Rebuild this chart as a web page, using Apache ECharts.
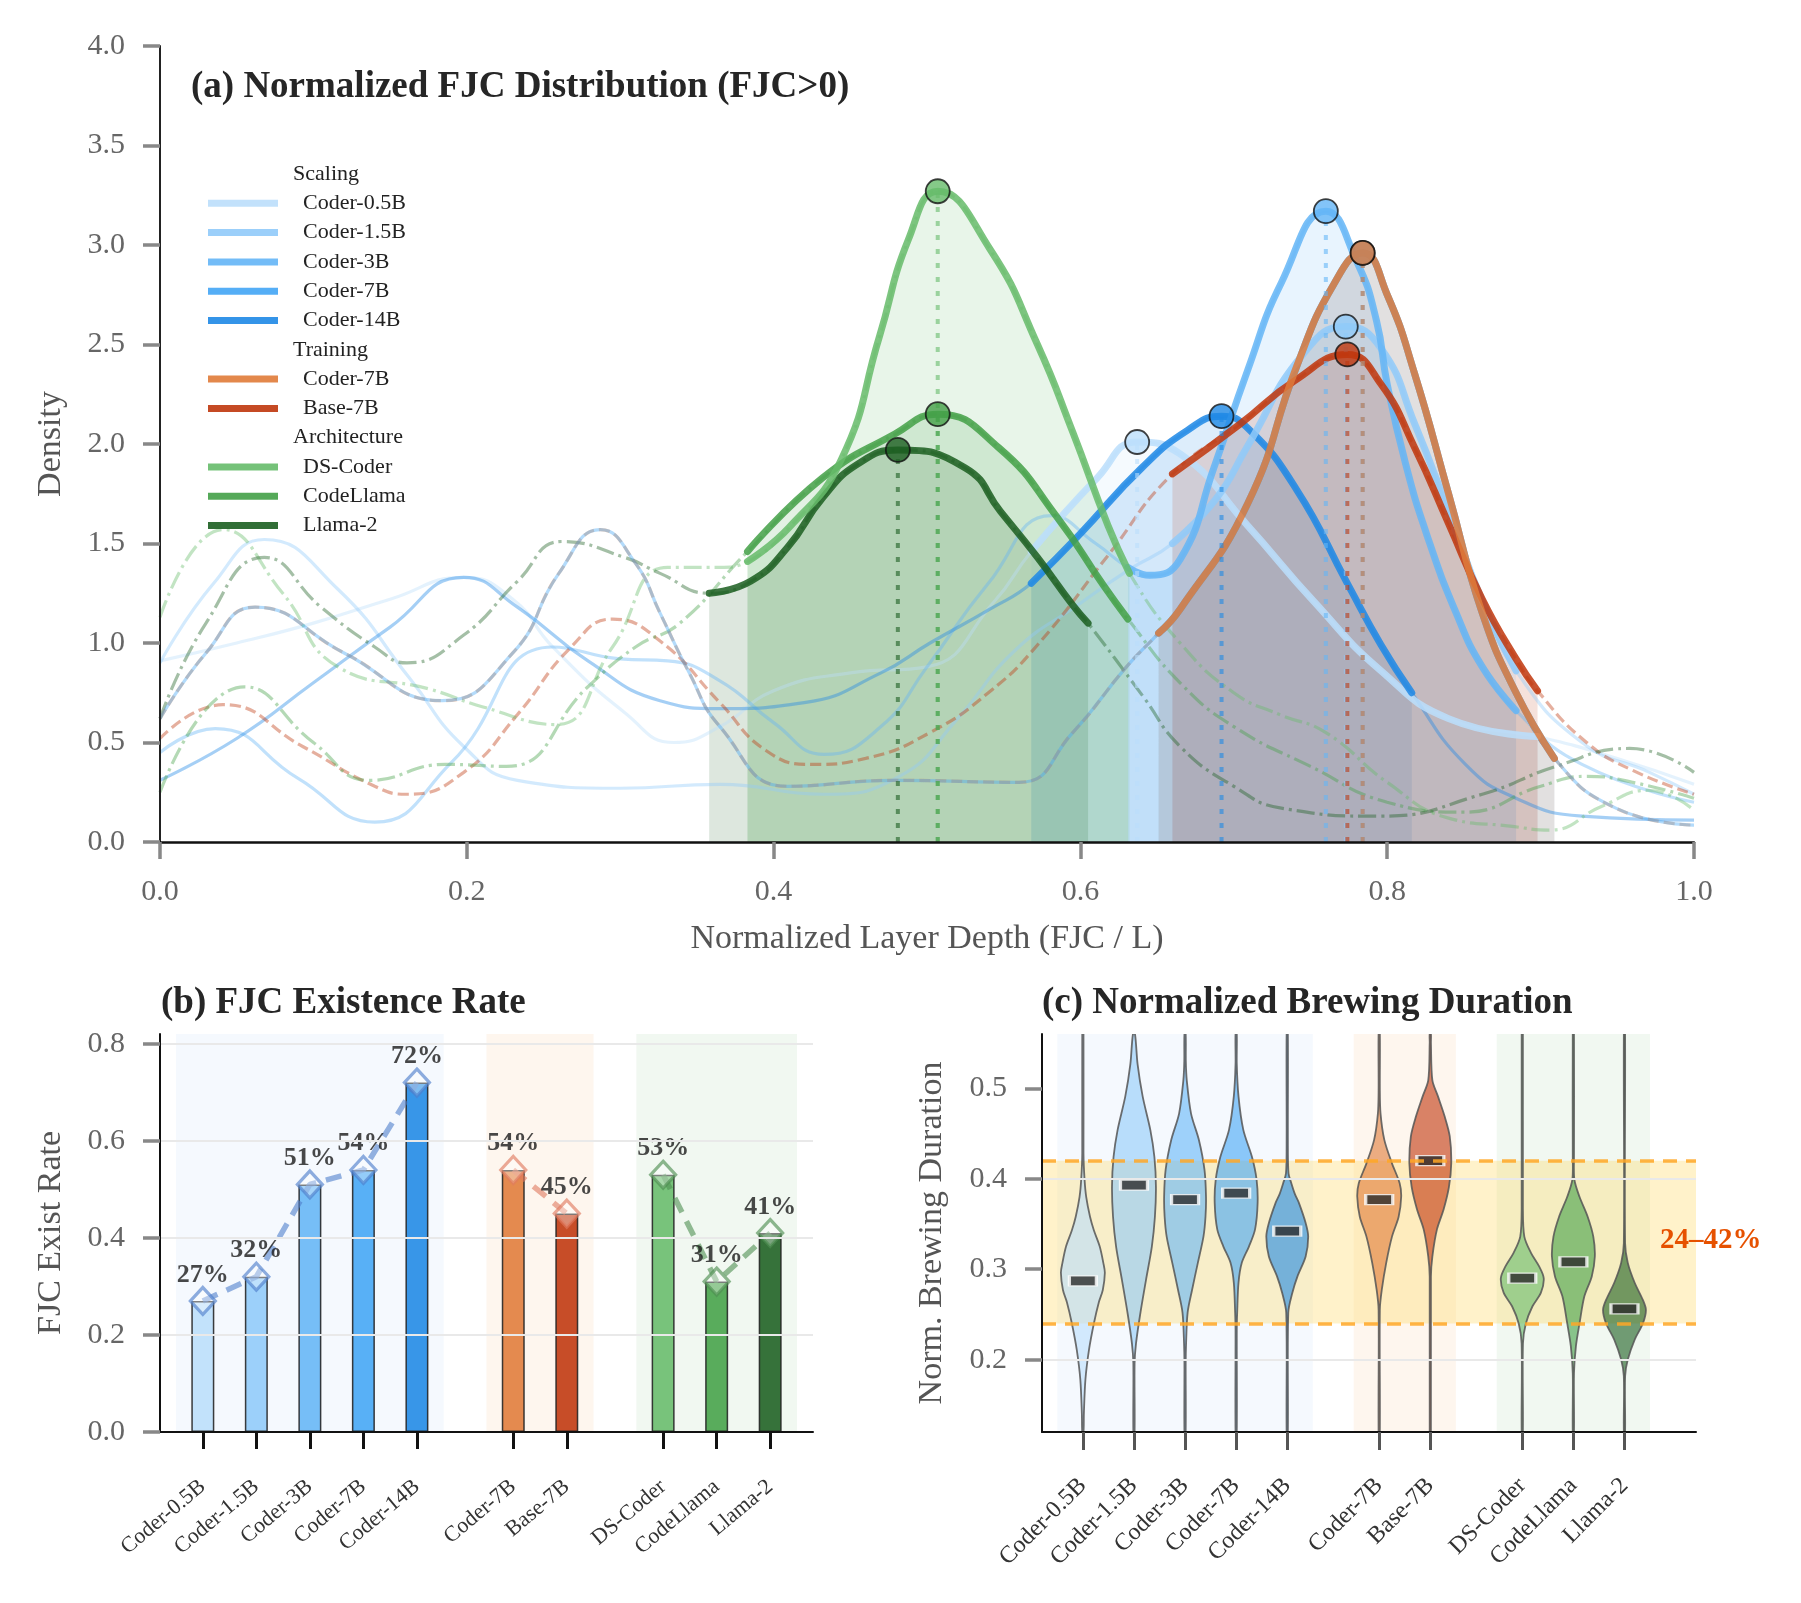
<!DOCTYPE html>
<html><head><meta charset="utf-8">
<script src="https://cdn.jsdelivr.net/npm/echarts@6/dist/echarts.min.js"></script>
<style>html,body{margin:0;padding:0;background:#fff}#c{width:1801px;height:1603px}</style>
</head><body><div id="c"></div>
<script>
const FONT = '"Liberation Serif","Times New Roman",Times,serif';

// ================= Panel (a): KDE curves [x, density] =================
const kdeCoder05B = [[0,0.91],[0.05,1.0],[0.10,1.10],[0.15,1.22],[0.198,1.33],[0.23,1.22],[0.256,0.98],[0.303,0.65],[0.335,0.50],[0.365,0.58],[0.40,0.76],[0.45,0.85],[0.50,0.88],[0.544,1.21],[0.568,1.46],[0.611,1.83],[0.637,2.01],[0.665,1.95],[0.709,1.59],[0.752,1.21],[0.796,0.86],[0.84,0.62],[0.898,0.53],[0.95,0.42],[1.0,0.29]];
const kdeCoder15B = [[0,0.90],[0.035,1.30],[0.068,1.52],[0.116,1.27],[0.163,0.82],[0.198,0.48],[0.233,0.31],[0.30,0.27],[0.365,0.29],[0.432,0.24],[0.482,0.33],[0.52,0.62],[0.557,0.96],[0.60,1.20],[0.632,1.37],[0.66,1.50],[0.688,1.72],[0.709,1.99],[0.745,2.45],[0.773,2.59],[0.796,2.48],[0.818,2.10],[0.84,1.66],[0.862,1.21],[0.884,0.86],[0.927,0.50],[0.971,0.35],[1.0,0.24]];
const kdeCoder3B = [[0,0.45],[0.036,0.57],[0.09,0.32],[0.14,0.10],[0.19,0.40],[0.256,0.98],[0.30,0.92],[0.331,0.91],[0.365,0.81],[0.40,0.60],[0.433,0.44],[0.47,0.58],[0.50,0.88],[0.54,1.30],[0.581,1.64],[0.61,1.50],[0.631,1.38],[0.645,1.34],[0.665,1.42],[0.687,1.88],[0.709,2.37],[0.731,2.81],[0.76,3.17],[0.78,2.92],[0.793,2.62],[0.80,2.30],[0.812,1.90],[0.826,1.54],[0.845,1.15],[0.862,0.88],[0.884,0.66],[0.927,0.39],[1.0,0.20]];
const kdeCoder7B = [[0,0.62],[0.03,0.95],[0.062,1.18],[0.12,0.95],[0.184,0.71],[0.23,0.95],[0.26,1.35],[0.287,1.57],[0.31,1.40],[0.326,1.15],[0.345,0.85],[0.365,0.58],[0.409,0.28],[0.479,0.31],[0.56,0.30],[0.595,0.55],[0.63,0.88],[0.651,1.05],[0.665,1.17],[0.709,1.70],[0.741,2.39],[0.765,2.80],[0.784,2.96],[0.80,2.75],[0.818,2.35],[0.84,1.75],[0.862,1.15],[0.884,0.75],[0.909,0.42],[0.949,0.17],[1.0,0.085]];
const kdeCoder14B = [[0,0.31],[0.05,0.52],[0.10,0.80],[0.15,1.08],[0.198,1.33],[0.233,1.18],[0.279,0.91],[0.326,0.71],[0.365,0.67],[0.42,0.70],[0.47,0.85],[0.502,1.0],[0.541,1.17],[0.568,1.30],[0.60,1.55],[0.64,1.88],[0.67,2.07],[0.692,2.14],[0.709,2.08],[0.741,1.77],[0.774,1.30],[0.796,0.99],[0.816,0.75],[0.851,0.39],[0.884,0.22],[0.927,0.13],[1.0,0.11]];
const kdeBase7B = [[0,0.52],[0.041,0.69],[0.093,0.48],[0.14,0.28],[0.161,0.24],[0.198,0.35],[0.233,0.64],[0.268,0.98],[0.295,1.12],[0.326,1.01],[0.365,0.70],[0.395,0.46],[0.425,0.39],[0.46,0.42],[0.502,0.55],[0.54,0.75],[0.572,0.99],[0.618,1.44],[0.66,1.85],[0.704,2.10],[0.74,2.32],[0.774,2.45],[0.796,2.30],[0.818,1.98],[0.84,1.60],[0.862,1.22],[0.884,0.92],[0.898,0.76],[0.93,0.50],[0.96,0.36],[1.0,0.24]];
const kdeDSCoder = [[0,1.13],[0.041,1.57],[0.08,1.25],[0.116,0.88],[0.175,0.77],[0.21,0.68],[0.258,0.59],[0.295,0.98],[0.331,1.38],[0.365,1.38],[0.383,1.41],[0.41,1.58],[0.444,1.92],[0.469,2.54],[0.488,3.03],[0.507,3.27],[0.541,2.98],[0.572,2.50],[0.595,2.06],[0.618,1.59],[0.632,1.35],[0.665,1.00],[0.70,0.75],[0.73,0.64],[0.76,0.55],[0.80,0.30],[0.84,0.12],[0.88,0.08],[0.906,0.06],[0.94,0.18],[0.97,0.26],[1.0,0.16]];
const kdeCodeLlama = [[0,0.25],[0.055,0.78],[0.10,0.50],[0.137,0.31],[0.186,0.39],[0.226,0.38],[0.279,0.78],[0.31,0.98],[0.339,1.10],[0.383,1.46],[0.432,1.83],[0.479,2.05],[0.507,2.15],[0.547,1.98],[0.585,1.63],[0.615,1.29],[0.631,1.12],[0.665,0.80],[0.70,0.58],[0.75,0.38],[0.80,0.20],[0.85,0.15],[0.90,0.28],[0.93,0.33],[0.96,0.30],[1.0,0.22]];
const kdeLlama2 = [[0,0.62],[0.03,1.10],[0.068,1.43],[0.105,1.18],[0.14,0.98],[0.161,0.90],[0.198,1.04],[0.233,1.31],[0.262,1.51],[0.303,1.43],[0.326,1.35],[0.358,1.25],[0.385,1.31],[0.409,1.48],[0.432,1.73],[0.455,1.90],[0.481,1.97],[0.525,1.88],[0.548,1.66],[0.572,1.43],[0.595,1.19],[0.605,1.10],[0.641,0.73],[0.665,0.48],[0.70,0.28],[0.731,0.17],[0.796,0.13],[0.862,0.24],[0.91,0.38],[0.958,0.47],[1.0,0.35]];

const kdeNames  = ['Coder-0.5B','Coder-1.5B','Coder-3B','Coder-7B','Coder-14B','Coder-7B','Base-7B','DS-Coder','CodeLlama','Llama-2'];
const kdeGroups = ['Scaling','Scaling','Scaling','Scaling','Scaling','Training','Training','Architecture','Architecture','Architecture'];
const kdeCurves = [kdeCoder05B,kdeCoder15B,kdeCoder3B,kdeCoder7B,kdeCoder14B,kdeCoder7B,kdeBase7B,kdeDSCoder,kdeCodeLlama,kdeLlama2];
const peakX = [0.637,0.773,0.760,0.784,0.692,0.784,0.774,0.507,0.507,0.481];
const peakY = [2.01,2.59,3.17,2.96,2.14,2.96,2.45,3.27,2.15,1.97];
const mainLo = [0.568,0.66,0.631,0.651,0.568,0.651,0.66,0.383,0.383,0.358];
const mainHi = [0.898,0.884,0.884,0.909,0.816,0.909,0.898,0.632,0.631,0.605];

// ================= Panel (b) =================
const modelNames = ['Coder-0.5B','Coder-1.5B','Coder-3B','Coder-7B','Coder-14B','Coder-7B','Base-7B','DS-Coder','CodeLlama','Llama-2'];
const modelPos = [0,1,2,3,4,5.8,6.8,8.6,9.6,10.6];
const existRate = [0.27,0.32,0.51,0.54,0.72,0.54,0.45,0.53,0.31,0.41];
const groupMembers = [[0,1,2,3,4],[5,6],[7,8,9]];
const groupSpan = [[-0.5,4.5],[5.3,7.3],[8.1,11.1]];
const existTicks = [0,0.2,0.4,0.6,0.8];

// ================= Panel (c): violin profiles [value, half-width] =================
const violinCoder05B = [[0.56,0.012],[0.428,0.012],[0.399,0.033],[0.38,0.065],[0.358,0.14],[0.343,0.215],[0.325,0.33],[0.307,0.40],[0.296,0.43],[0.277,0.39],[0.263,0.31],[0.24,0.215],[0.211,0.12],[0.178,0.05],[0.141,0.02],[0.12,0.012]];
const violinCoder15B = [[0.56,0.02],[0.527,0.07],[0.491,0.17],[0.454,0.32],[0.424,0.40],[0.391,0.43],[0.358,0.41],[0.325,0.35],[0.288,0.235],[0.251,0.124],[0.218,0.04],[0.196,0.012],[0.12,0.012]];
const violinCoder3B = [[0.56,0.012],[0.53,0.015],[0.509,0.033],[0.472,0.117],[0.443,0.27],[0.41,0.38],[0.38,0.41],[0.358,0.40],[0.336,0.36],[0.307,0.25],[0.277,0.137],[0.252,0.05],[0.218,0.02],[0.196,0.012],[0.12,0.012]];
const violinCoder7B = [[0.56,0.012],[0.527,0.012],[0.491,0.046],[0.454,0.14],[0.424,0.31],[0.399,0.40],[0.373,0.42],[0.344,0.37],[0.325,0.25],[0.307,0.11],[0.285,0.046],[0.252,0.02],[0.233,0.012],[0.12,0.012]];
const violinCoder14B = [[0.56,0.012],[0.443,0.012],[0.406,0.025],[0.395,0.08],[0.383,0.15],[0.373,0.23],[0.351,0.36],[0.336,0.41],[0.314,0.36],[0.292,0.20],[0.274,0.10],[0.252,0.02],[0.12,0.012]];
const violinTrain7B = [[0.56,0.012],[0.498,0.012],[0.472,0.026],[0.443,0.10],[0.417,0.25],[0.395,0.40],[0.38,0.43],[0.358,0.38],[0.336,0.25],[0.307,0.137],[0.277,0.05],[0.255,0.012],[0.12,0.012]];
const violinBase7B = [[0.56,0.012],[0.55,0.012],[0.509,0.04],[0.491,0.15],[0.469,0.28],[0.447,0.38],[0.417,0.41],[0.391,0.365],[0.366,0.26],[0.344,0.13],[0.314,0.04],[0.292,0.012],[0.12,0.012]];
const violinDSCoder = [[0.56,0.012],[0.369,0.012],[0.336,0.04],[0.318,0.17],[0.303,0.33],[0.29,0.42],[0.274,0.365],[0.259,0.2],[0.24,0.07],[0.218,0.013],[0.12,0.012]];
const violinCodeLlama = [[0.56,0.012],[0.424,0.012],[0.399,0.02],[0.38,0.12],[0.358,0.28],[0.336,0.39],[0.314,0.42],[0.292,0.36],[0.27,0.215],[0.24,0.12],[0.215,0.05],[0.185,0.012],[0.12,0.012]];
const violinLlama2 = [[0.56,0.012],[0.329,0.012],[0.307,0.065],[0.285,0.2],[0.266,0.36],[0.255,0.42],[0.24,0.36],[0.222,0.2],[0.2,0.065],[0.182,0.013],[0.12,0.012]];
const violinProfiles = [violinCoder05B,violinCoder15B,violinCoder3B,violinCoder7B,violinCoder14B,violinTrain7B,violinBase7B,violinDSCoder,violinCodeLlama,violinLlama2];
const brewMedian = [0.287,0.393,0.377,0.384,0.342,0.377,0.420,0.290,0.308,0.256];
const brewTicks = [0.2,0.3,0.4,0.5];
const brewGrid = [0.2,0.4];
const bandLo = 0.24, bandHi = 0.42;

// ================= Styles =================
const colors = ['#bbdefb','#90caf9','#64b5f6','#42a5f5','#1e88e5','#e07b39','#bf360c','#66bb6a','#43a047','#1b5e20'];
const groupDash = {Scaling:'solid', Training:[11,5], Architecture:[18,5,3,5]};
const groupBg = ['#f5f9fe','#fef6ee','#f1f8f1'];
const groupLine = ['#4f7fcc','#e07a5f','#4e8f52'];
function hexA(h,a){const r=parseInt(h.slice(1,3),16),g=parseInt(h.slice(3,5),16),b=parseInt(h.slice(5,7),16);return `rgba(${r},${g},${b},${a})`;}

const SMOOTH = 0.5;
const series = [];
const idx = [0,1,2,3,4,5,6,7,8,9];
const inRange = i => kdeCurves[i].filter(p => p[0] >= mainLo[i] - 1e-9 && p[0] <= mainHi[i] + 1e-9);

// areas
idx.forEach(i => series.push({type:'line', xAxisIndex:0, yAxisIndex:0, z:1, silent:true,
  data: inRange(i), smooth:SMOOTH, symbol:'none',
  lineStyle:{width:0, opacity:0}, areaStyle:{color:colors[i], opacity:0.15}}));
// thin full-range lines
[0,1,2,4,6,7,8,9,5,3].forEach(i => series.push({type:'line', xAxisIndex:0, yAxisIndex:0, z:2, silent:true,
  data: kdeCurves[i], smooth:SMOOTH, symbol:'none',
  lineStyle:{width:3.2, color:colors[i], opacity:0.4, type:groupDash[kdeGroups[i]]}}));
// thick highlighted segments
[3,0,4,1,2,9,8,7,6,5].forEach(i => series.push({type:'line', xAxisIndex:0, yAxisIndex:0, z:3, silent:true,
  data: inRange(i), smooth:SMOOTH, symbol:'none',
  lineStyle:{width:7, color:colors[i], opacity:0.85, cap:'round'}}));
// dotted verticals
idx.forEach(i => series.push({type:'line', xAxisIndex:0, yAxisIndex:0, z:4, silent:true,
  data: [[peakX[i],0],[peakX[i],peakY[i]]], symbol:'none',
  lineStyle:{width:4, color:colors[i], opacity:0.6, type:[5,9]}}));
// peak markers
[0,1,2,4,3,5,6,7,8,9].forEach(i => series.push({type:'scatter', xAxisIndex:0, yAxisIndex:0, z:5, silent:true,
  data: [[peakX[i],peakY[i]]], symbol:'circle', symbolSize:24,
  itemStyle:{color:colors[i], borderColor:'#111', borderWidth:1.8}}));

// ---- panel b ----
series.push({type:'line', xAxisIndex:1, yAxisIndex:1, z:0, silent:true, data:[[-0.8,0]], symbol:'none', lineStyle:{opacity:0},
  markArea:{silent:true, label:{show:false}, data: groupSpan.map((s,g)=>[{xAxis:s[0], itemStyle:{color:groupBg[g]}},{xAxis:s[1]}])}});
series.push({type:'line', xAxisIndex:1, yAxisIndex:1, z:1, silent:true, data:[[-0.8,0]], symbol:'none', lineStyle:{opacity:0},
  markLine:{silent:true, symbol:['none','none'], label:{show:false}, lineStyle:{color:'#e9e9e9', width:2, type:'solid'},
    data: existTicks.filter(v=>v>0).map(v=>({yAxis:v}))}});
series.push({type:'bar', xAxisIndex:1, yAxisIndex:1, z:2, silent:true, barWidth:23,
  data: modelPos.map((p,i)=>({value:[p, existRate[i]], itemStyle:{color:colors[i]}})),
  itemStyle:{borderColor:'#222', borderWidth:1.5, opacity:0.88}});
groupMembers.forEach((m,g) => {
  series.push({type:'line', xAxisIndex:1, yAxisIndex:1, z:3, silent:true, symbol:'none',
    data: m.map(i=>[modelPos[i], existRate[i]]),
    lineStyle:{color:groupLine[g], width:5.5, opacity:0.6, type:[16,10]}});
  series.push({type:'scatter', xAxisIndex:1, yAxisIndex:1, z:4, silent:true, symbol:'diamond', symbolSize:[25,27],
    data: m.map(i=>[modelPos[i], existRate[i]]),
    itemStyle:{color:'rgba(255,255,255,0.45)', borderColor:hexA(groupLine[g],0.8), borderWidth:3.2},
    label:{show:true, position:'top', distance:-2, formatter:p=>Math.round(p.value[1]*100)+'%',
      fontSize:26, fontWeight:'bold', color:'#1a1a1a', fontFamily:FONT}});
});

// ---- panel c ----
series.push({type:'line', xAxisIndex:2, yAxisIndex:2, z:0, silent:true, data:[[-0.8,0.12]], symbol:'none', lineStyle:{opacity:0},
  markArea:{silent:true, label:{show:false}, data: groupSpan.map((s,g)=>[{xAxis:s[0], itemStyle:{color:groupBg[g]}},{xAxis:s[1]}])}});
series.push({type:'line', xAxisIndex:2, yAxisIndex:2, z:1, silent:true, data:[[-0.8,0.12]], symbol:'none', lineStyle:{opacity:0},
  markLine:{silent:true, symbol:['none','none'], label:{show:false}, lineStyle:{color:'#e9e9e9', width:2, type:'solid'},
    data: brewGrid.map(v=>({yAxis:v}))}});
series.push({type:'line', xAxisIndex:2, yAxisIndex:2, z:1, silent:true, data:[[-0.8,0.12]], symbol:'none', lineStyle:{opacity:0},
  markArea:{silent:true, label:{show:false}, itemStyle:{color:'rgba(255,213,79,0.3)'}, data:[[{yAxis:bandLo},{yAxis:bandHi}]]}});
series.push({type:'line', xAxisIndex:2, yAxisIndex:2, z:2, silent:true, data:[[-0.8,0.12]], symbol:'none', lineStyle:{opacity:0},
  markLine:{silent:true, symbol:['none','none'], label:{show:false}, lineStyle:{color:'#ffa726', width:3.5, type:[14,9], opacity:0.85},
    data:[{yAxis:bandLo},{yAxis:bandHi}]}});
series.push({type:'custom', xAxisIndex:2, yAxisIndex:2, z:3, silent:true, clip:true,
  data: modelPos.map((p,i)=>[p, brewMedian[i], i]),
  renderItem:(params, api) => {
    const pos = api.value(0), k = api.value(2), prof = violinProfiles[k];
    const pts = [];
    prof.forEach(p => pts.push(api.coord([pos - p[1], p[0]])));
    for (let j = prof.length-1; j >= 0; j--) pts.push(api.coord([pos + prof[j][1], prof[j][0]]));
    return {type:'polygon', shape:{points:pts, smooth:0.3},
      style:{fill:hexA(colors[k],0.6), stroke:'rgba(85,85,85,0.85)', lineWidth:1.8}};
  }});
series.push({type:'scatter', xAxisIndex:2, yAxisIndex:2, z:4, silent:true, symbol:'rect', symbolSize:[27,10],
  data: modelPos.map((p,i)=>[p, brewMedian[i]]),
  itemStyle:{color:'#2b2b2b', borderColor:'#fff', borderWidth:2}});

// ---- axes ----
const tickLbl = {fontSize:30, color:'#666', fontFamily:FONT, margin:35};
const nameStyle = {fontSize:34, color:'#555', fontFamily:FONT};
const grayTick = {show:true, length:17, lineStyle:{color:'#888', width:3.5}};
const posName = v => { const i = modelPos.findIndex(p => Math.abs(p - v) < 1e-6); return i >= 0 ? modelNames[i] : ''; };

const option = {
  animation:false, backgroundColor:'#fff',
  grid:[
    {left:160, top:46, width:1534, height:796},
    {left:160, top:1034, width:653, height:398},
    {left:1042, top:1034, width:654, height:398}
  ],
  xAxis:[
    {gridIndex:0, type:'value', min:0, max:1, interval:0.2, z:6,
     axisLine:{show:true, onZero:false, lineStyle:{color:'#111', width:2.5}}, axisTick:grayTick,
     axisLabel:Object.assign({formatter:v=>v.toFixed(1)}, tickLbl), splitLine:{show:false},
     name:'Normalized Layer Depth (FJC / L)', nameLocation:'middle', nameGap:80, nameTextStyle:nameStyle},
    {gridIndex:1, type:'value', min:-0.8, max:11.4, z:6,
     axisLine:{show:true, onZero:false, lineStyle:{color:'#111', width:2}},
     axisTick:{show:true, length:17, customValues:modelPos, lineStyle:{color:'#111', width:3}},
     axisLabel:{customValues:modelPos, formatter:posName, rotate:40, fontSize:22, color:'#333', fontFamily:FONT, margin:52},
     splitLine:{show:false}},
    {gridIndex:2, type:'value', min:-0.8, max:12.0, z:6,
     axisLine:{show:true, onZero:false, lineStyle:{color:'#111', width:2}},
     axisTick:{show:true, length:18, customValues:modelPos, lineStyle:{color:'#555', width:3}},
     axisLabel:{customValues:modelPos, formatter:posName, rotate:45, fontSize:24, color:'#333', fontFamily:FONT, margin:50},
     splitLine:{show:false}}
  ],
  yAxis:[
    {gridIndex:0, type:'value', min:0, max:4, interval:0.5, z:6,
     axisLine:{show:true, onZero:false, lineStyle:{color:'#222', width:2}}, axisTick:grayTick,
     axisLabel:Object.assign({formatter:v=>v.toFixed(1)}, tickLbl), splitLine:{show:false},
     name:'Density', nameLocation:'middle', nameGap:92, nameTextStyle:nameStyle},
    {gridIndex:1, type:'value', min:0, max:0.82, interval:0.2, z:6,
     axisLine:{show:true, onZero:false, lineStyle:{color:'#111', width:2}},
     axisTick:{show:true, length:17, customValues:existTicks, lineStyle:{color:'#888', width:3.5}},
     axisLabel:Object.assign({customValues:existTicks, formatter:v=>v.toFixed(1)}, tickLbl), splitLine:{show:false},
     name:'FJC Exist Rate', nameLocation:'middle', nameGap:92, nameTextStyle:nameStyle},
    {gridIndex:2, type:'value', min:0.12, max:0.56, interval:0.1, z:6,
     axisLine:{show:true, onZero:false, lineStyle:{color:'#111', width:2}},
     axisTick:{show:true, length:17, customValues:brewTicks, lineStyle:{color:'#888', width:3.5}},
     axisLabel:Object.assign({customValues:brewTicks, formatter:v=>v.toFixed(1)}, tickLbl), splitLine:{show:false},
     name:'Norm. Brewing Duration', nameLocation:'middle', nameGap:93, nameTextStyle:nameStyle}
  ],
  series: series,
  graphic: []
};

// titles
const titleFont = 'bold 37px ' + FONT;
option.graphic.push({type:'text', x:191, y:87, z:10, style:{text:'(a) Normalized FJC Distribution (FJC>0)', font:titleFont, fill:'#262626', verticalAlign:'middle'}});
option.graphic.push({type:'text', x:161, y:1003, z:10, style:{text:'(b) FJC Existence Rate', font:titleFont, fill:'#262626', verticalAlign:'middle'}});
option.graphic.push({type:'text', x:1042, y:1003, z:10, style:{text:'(c) Normalized Brewing Duration', font:titleFont, fill:'#262626', verticalAlign:'middle'}});
option.graphic.push({type:'text', x:1660, y:1241, z:10, style:{text:`${Math.round(bandLo*100)}–${Math.round(bandHi*100)}%`, font:'bold 29px '+FONT, fill:'#e65100', verticalAlign:'middle'}});

// legend (grouped)
let row = 0; let lastGroup = null;
const legY = r => 174 + r*29.3;
idx.forEach(i => {
  if (kdeGroups[i] !== lastGroup) {
    option.graphic.push({type:'text', x:293, y:legY(row), z:10, style:{text:kdeGroups[i], font:'22px '+FONT, fill:'#222', verticalAlign:'middle'}});
    lastGroup = kdeGroups[i]; row++;
  }
  option.graphic.push({type:'line', z:10, shape:{x1:208, y1:legY(row), x2:278, y2:legY(row)}, style:{stroke:colors[i], lineWidth:7, opacity:0.9}});
  option.graphic.push({type:'text', x:303, y:legY(row), z:10, style:{text:kdeNames[i], font:'22px '+FONT, fill:'#222', verticalAlign:'middle'}});
  row++;
});

const chart = echarts.init(document.getElementById('c'), null, {renderer:'canvas'});
chart.setOption(option);
</script></body></html>
